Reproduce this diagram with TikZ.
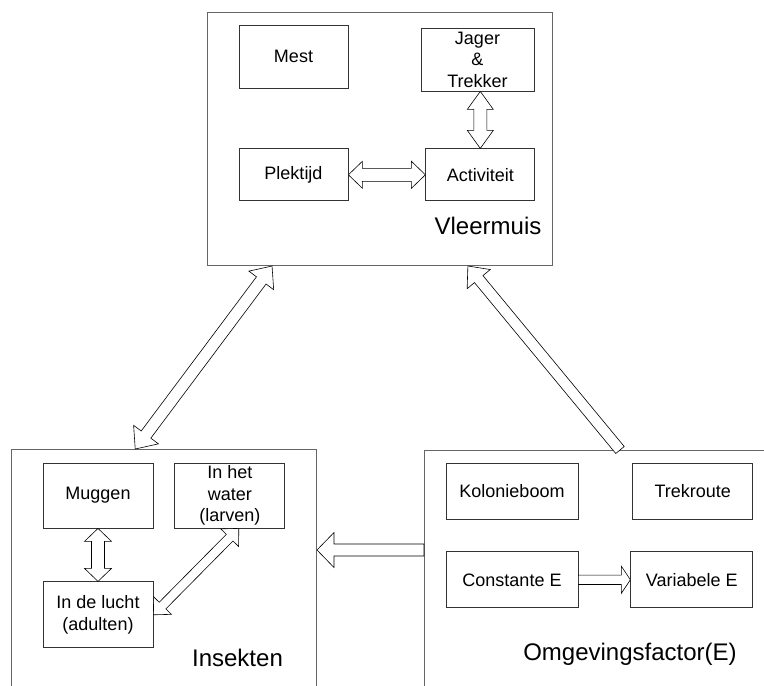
\documentclass[tikz,border=0pt]{standalone}
\usepackage{fontspec}
\setmainfont{Liberation Sans}
\usepackage{tikz}
\usetikzlibrary{positioning, calc}

\begin{document}
\begin{tikzpicture}[
  x=1pt, y=-1pt,
  font={\fontsize{18}{21.5}\selectfont},
  bigframe/.style={draw=black!60, line width=1pt, inner sep=0pt, anchor=north west},
  box/.style={draw=black!80, line width=0.8pt, inner sep=0pt, align=center},
  biglabel/.style={font={\fontsize{24}{28}\selectfont}, inner sep=0pt},
  fatw/.store in=\fatw, fath/.store in=\fath, fatl/.store in=\fatl,
  fatw=6.5pt, fath=13pt, fatl=15pt,
  fatboth/.style={draw=black, fill=white, line width=0.6pt, line join=miter,
    to path={
      -- ($(\tikztostart)!\fatl!(\tikztotarget)!\fath!90:(\tikztotarget)$)
      -- ($(\tikztostart)!\fatl!(\tikztotarget)!\fatw!90:(\tikztotarget)$)
      -- ($(\tikztotarget)!\fatl!(\tikztostart)!\fatw!-90:(\tikztostart)$)
      -- ($(\tikztotarget)!\fatl!(\tikztostart)!\fath!-90:(\tikztostart)$)
      -- (\tikztotarget)
      -- ($(\tikztotarget)!\fatl!(\tikztostart)!\fath!90:(\tikztostart)$)
      -- ($(\tikztotarget)!\fatl!(\tikztostart)!\fatw!90:(\tikztostart)$)
      -- ($(\tikztostart)!\fatl!(\tikztotarget)!\fatw!-90:(\tikztotarget)$)
      -- ($(\tikztostart)!\fatl!(\tikztotarget)!\fath!-90:(\tikztotarget)$)
      -- cycle}},
  fatone/.style={draw=black, fill=white, line width=0.6pt, line join=miter,
    to path={
      -- ($(\tikztostart)!\fatw!90:(\tikztotarget)$)
      -- ($(\tikztotarget)!\fatl!(\tikztostart)!\fatw!-90:(\tikztostart)$)
      -- ($(\tikztotarget)!\fatl!(\tikztostart)!\fath!-90:(\tikztostart)$)
      -- (\tikztotarget)
      -- ($(\tikztotarget)!\fatl!(\tikztostart)!\fath!90:(\tikztostart)$)
      -- ($(\tikztotarget)!\fatl!(\tikztostart)!\fatw!90:(\tikztostart)$)
      -- ($(\tikztostart)!\fatw!-90:(\tikztotarget)$)
      -- cycle}},
]
  \useasboundingbox (0,0) rectangle (764,686);
  \clip (0,0) rectangle (764,686);

  % Vleermuis (top)
  \node[bigframe, minimum width=345pt, minimum height=253pt] (vleer) at (207,12) {};
  \node[box, minimum width=109pt, minimum height=63pt] (mest) at (293.5,56.5) {Mest};
  \node[box, minimum width=113pt, minimum height=63pt] (jager) at (477.5,59.5) {Jager\\\&\\Trekker};
  \node[box, minimum width=109pt, minimum height=52pt, below=60pt of mest] (plek) {Plektijd};
  \node[box, minimum width=109pt, minimum height=52pt, right=77pt of plek] (akt) {Activiteit};
  \node[biglabel] (vlab) at (488,226) {Vleermuis};

  % Insekten (bottom left, runs off the page)
  \node[bigframe, minimum width=305pt, minimum height=260pt] (ins) at (11,449) {};
  \node[box, minimum width=110pt, minimum height=65pt] (mug) at (98,495.5) {Muggen};
  \node[box, minimum width=110pt, minimum height=65pt, right=21pt of mug] (water) {In het\\water\\(larven)};
  \node[box, minimum width=110pt, minimum height=66pt, below=53pt of mug] (lucht) {In de lucht\\(adulten)};
  \node[biglabel] (ilab) at (237.5,658) {Insekten};

  % Omgevingsfactor (bottom right)
  \node[bigframe, minimum width=400pt, minimum height=260pt] (omg) at (424,450) {};
  \node[box, minimum width=132pt, minimum height=56pt] (kol) at (512,491) {Kolonieboom};
  \node[box, minimum width=120pt, minimum height=56pt, right=54pt of kol] (trek) {Trekroute};
  \node[box, minimum width=132pt, minimum height=56pt, below=32pt of kol] (const) {Constante E};
  \node[box, minimum width=122pt, minimum height=56pt, right=52pt of const] (var) {Variabele E};
  \node[biglabel] (olab) at (630,654) {Omgevingsfactor(E)};

  % ends of the long arrows on the frames
  \coordinate (vs1) at ($(vleer.south west)!0.188!(vleer.south east)$);
  \coordinate (vs2) at ($(vleer.south west)!0.754!(vleer.south east)$);
  \coordinate (in1) at ($(ins.north west)!0.406!(ins.north east)$);
  \coordinate (on1) at ($(omg.north west)+(196,0)$);
  \coordinate (ow) at ($(omg.north west)+(0,100)$);
  \coordinate (ie) at (ins.east |- ow);
  \coordinate (wt) at ($(water.south)+(9,0)$);

  % hollow arrows inside the frames
  \draw[fatboth, fatl=18pt] (jager.south -| akt) to (akt.north);
  \draw[fatboth, fatl=14pt, fath=13.5pt] (plek.east) to (akt.west);
  \draw[fatboth, fatl=13pt, fath=13.5pt] (mug.south) to (lucht.north);
  \draw[fatboth, fatw=4.7pt, fath=12.5pt, fatl=13pt] (lucht.east) to (wt);
  \draw[fatone, fatw=4.7pt, fath=13.5pt, fatl=9pt] (const.east) to (var.west);

  % hollow arrows between the frames
  \draw[fatone, fatw=6pt, fath=17.5pt, fatl=17pt] (ow) to (ie);
  \draw[fatboth, fatw=6pt, fath=15.5pt, fatl=18pt] (in1) to (vs1);
  \draw[fatone, fatw=5.5pt, fath=15pt, fatl=17pt] (on1) to (vs2);
\end{tikzpicture}
\end{document}
